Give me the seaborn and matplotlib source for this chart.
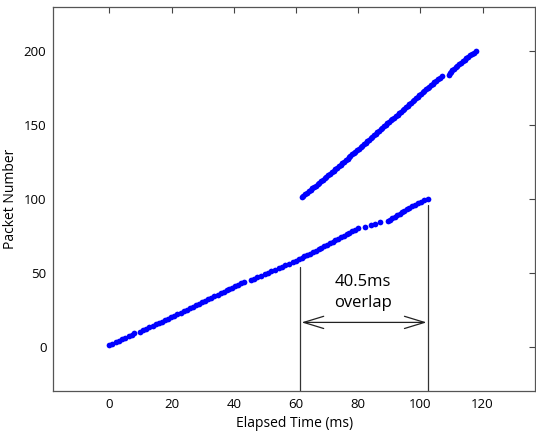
import pandas as pd
import matplotlib
matplotlib.use("Agg")
import matplotlib.pyplot as plt
import seaborn as sns

# Packet arrival times (ms)
first_times = [
    0.0, 1.0, 2.1, 3.1, 4.2, 5.2, 6.2, 7.3, 8.0, 9.9,
    10.8, 11.8, 12.8, 13.9, 14.9, 15.9, 16.9, 17.9, 18.9, 19.9,
    20.9, 21.9, 22.9, 23.9, 24.9, 25.9, 26.9, 27.8, 28.8, 29.8,
    30.8, 31.8, 32.8, 33.8, 34.9, 35.9, 36.8, 37.7, 38.6, 39.5,
    40.4, 41.4, 42.3, 43.3, 45.4, 46.5, 47.6, 48.8, 49.9, 51.0,
    52.1, 53.3, 54.4, 55.5, 56.6, 57.7, 58.9, 60.0, 60.9, 61.8,
    62.7, 63.6, 64.5, 65.5, 66.4, 67.3, 68.2, 69.1, 70.0, 70.9,
    71.8, 72.7, 73.6, 74.5, 75.4, 76.3, 77.2, 78.1, 79.0, 79.9,
    82.2, 84.1, 85.5, 87.0, 89.5, 90.3, 91.0, 91.8, 92.6, 93.3,
    94.1, 94.8, 95.6, 96.3, 97.2, 98.2, 99.2, 100.2, 101.2, 102.3,
]
second_times = [
    61.8, 62.4, 63.0, 63.5, 64.1, 64.7, 65.2, 65.8, 66.4, 67.0,
    67.5, 68.1, 68.7, 69.2, 69.8, 70.4, 70.9, 71.5, 72.1, 72.7,
    73.2, 73.8, 74.4, 74.9, 75.5, 76.1, 76.6, 77.2, 77.5, 78.0,
    78.6, 79.1, 79.7, 80.2, 80.8, 81.3, 81.8, 82.4, 82.9, 83.5,
    84.0, 84.5, 85.1, 85.6, 86.2, 86.7, 87.3, 87.8, 88.3, 88.9,
    89.4, 90.0, 90.5, 91.0, 91.6, 92.1, 92.7, 93.2, 93.7, 94.3,
    94.8, 95.4, 95.9, 96.4, 97.0, 97.5, 98.1, 98.6, 99.1, 99.7,
    100.2, 100.8, 101.3, 101.8, 102.4, 102.9, 103.5, 104.0, 104.5, 105.1,
    105.7, 106.3, 106.9, 109.2, 109.4, 109.7, 110.2, 110.8, 111.3, 111.9,
    112.5, 113.1, 113.7, 114.2, 114.8, 115.4, 116.0, 116.6, 117.2, 117.8,
]
first_packets = list(range(1, 101))
second_packets = list(range(101, 201))

x_ticks = [0, 20, 40, 60, 80, 100, 120]
y_ticks = [0, 50, 100, 150, 200]

df = pd.DataFrame({
    "time": first_times + second_times,
    "packet": first_packets + second_packets,
})

sns.set_style("white")
plt.rcParams["font.family"] = ["Open Sans", "DejaVu Sans"]
plt.rcParams.update({"text.color": "black", "axes.labelcolor": "black",
                     "xtick.color": "black", "ytick.color": "black"})

fig = plt.figure(figsize=(5.36, 4.4), dpi=100)
ax = fig.add_axes([0.0995, 0.1114, 0.8995, 0.8734])

sns.scatterplot(data=df, x="time", y="packet", color="#0000ff", s=17,
                linewidth=0, ax=ax, zorder=3)

# overlap markers
ax.plot([61.2, 61.2], [-30, 54], color="#333333", lw=0.9)
ax.plot([102.6, 102.6], [-30, 96], color="#333333", lw=0.9)
ax.annotate("", xy=(61.8, 16.4), xytext=(102.0, 16.4),
            arrowprops=dict(arrowstyle="<->,head_length=0.72,head_width=0.22",
                            color="#222222", lw=0.9, shrinkA=0, shrinkB=0,
                            mutation_scale=20))
ax.text(81.6, 43.6, "40.5ms", ha="center", va="center", fontsize=12)
ax.text(81.6, 29.3, "overlap", ha="center", va="center", fontsize=12)

ax.set_xlim(-18, 137)
ax.set_ylim(-30, 230)
ax.set_xticks(x_ticks)
ax.set_yticks(y_ticks)
ax.set_xlabel("Elapsed Time (ms)", fontsize=10)
ax.set_ylabel("Packet Number", fontsize=10)
ax.tick_params(direction="in", length=4, width=0.8, color="#444444",
               top=True, right=True, labelsize=9.5, pad=5)
for sp in ax.spines.values():
    sp.set_visible(True)
    sp.set_color("#555555")
    sp.set_linewidth(0.9)

fig.savefig("out.png", dpi=100)
